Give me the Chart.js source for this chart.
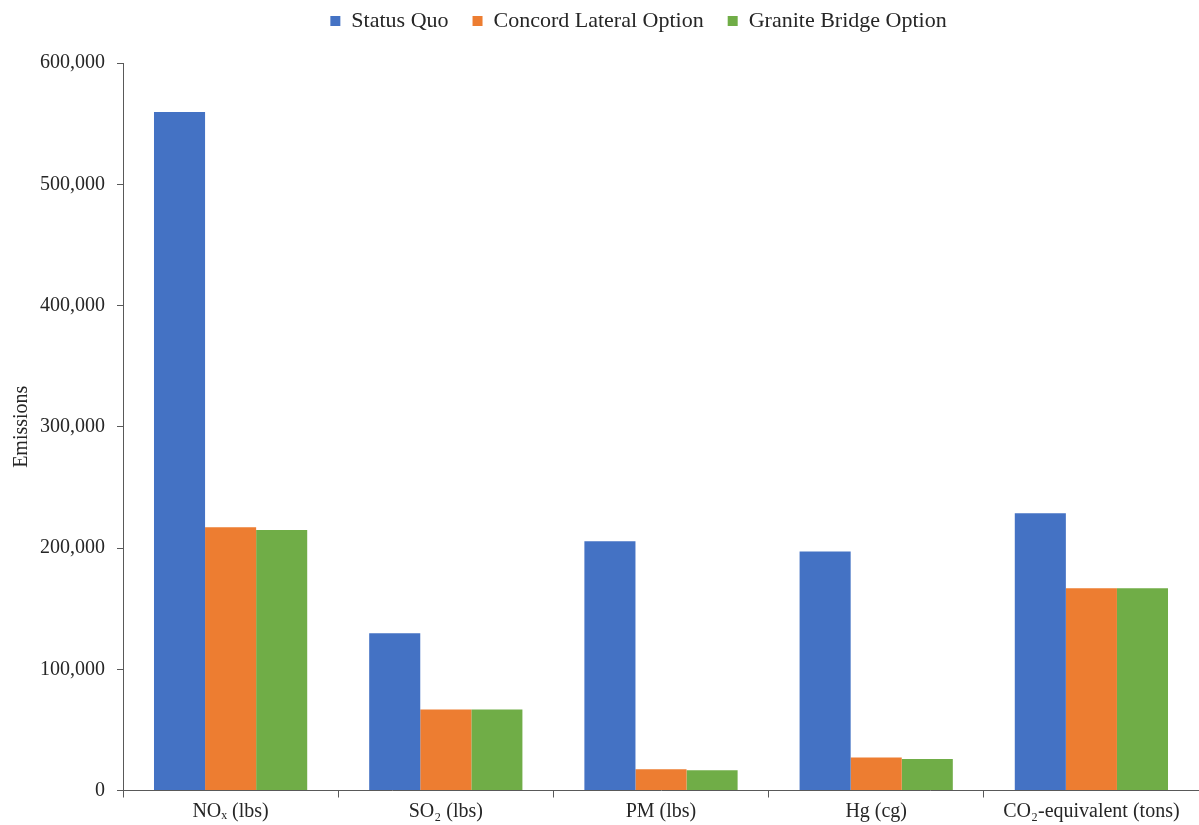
<!DOCTYPE html>
<html>
<head>
<meta charset="utf-8">
<script src="https://cdn.jsdelivr.net/npm/chart.js@4"></script>
<style>
html,body{margin:0;padding:0;background:#fff;}
#wrap{width:1199px;height:825px;}
</style>
</head>
<body>
<div id="wrap"><canvas id="emissionsChart"></canvas></div>
<script>
const categories = [
"NOₓ (lbs)",
"SO₂ (lbs)",
"PM (lbs)",
"Hg (cg)",
"CO₂-equivalent (tons)"
];

const statusQuo = [559500, 129700, 205500, 197200, 228700];
const concordLateral = [217100, 66800, 17600, 27300, 166900];
const graniteBridge = [214900, 66800, 16800, 25900, 166900];

const seriesNames = [
"Status Quo",
"Concord Lateral Option",
"Granite Bridge Option"
];

const yTicks = [0, 100000, 200000, 300000, 400000, 500000, 600000];

const textColor = "#262626";
const axisColor = "#595959";

Chart.defaults.font.family = "'Liberation Serif', 'Times New Roman', serif";
Chart.defaults.font.size = 20;
Chart.defaults.color = textColor;

// legend: a bit more room below it, and centred a little right of the canvas middle
const legendSpacer = {
id:"legendSpacer",
beforeInit(chart){
const origFit = chart.legend.fit;
chart.legend.fit = function(){
origFit.bind(chart.legend)();
this.height += 21;
};
},
afterLayout(chart){
chart.legend.left += 39;
chart.legend.right += 39;
}
};

new Chart(
document.getElementById("emissionsChart"),
{
type:"bar",
data:{
labels:categories,
datasets:[
{label:seriesNames[0], data:statusQuo, backgroundColor:"#4472C4"},
{label:seriesNames[1], data:concordLateral, backgroundColor:"#ED7D31"},
{label:seriesNames[2], data:graniteBridge, backgroundColor:"#70AD47"}
]
},
plugins:[legendSpacer],
options:{
responsive:true,
maintainAspectRatio:false,
animation:false,
layout:{padding:{top:-14, right:0, bottom:0, left:0}},
datasets:{
bar:{categoryPercentage:0.712, barPercentage:1.0}
},
plugins:{
tooltip:{enabled:false},
legend:{
position:"top",
labels:{
boxWidth:10,
boxHeight:10,
padding:24,
font:{size:22},
color:textColor
}
}
},
scales:{
x:{
offset:true,
grid:{
display:true,
offset:true,
drawOnChartArea:false,
drawTicks:true,
tickLength:7,
color:axisColor
},
border:{display:true, color:axisColor, width:1},
ticks:{color:textColor, padding:2, maxRotation:0, font:{size:20}},
afterFit:function(scale){ scale.height = 34.5; }
},
y:{
min:0,
max:600000,
afterBuildTicks:function(scale){
scale.ticks = yTicks.map(v=>({value:v}));
},
grid:{
display:true,
drawOnChartArea:false,
drawTicks:true,
tickLength:6,
color:axisColor
},
border:{display:true, color:axisColor, width:1},
ticks:{
color:textColor,
padding:12,
font:{size:20},
callback:function(v){ return v.toLocaleString("en-US"); }
},
title:{
display:true,
text:"Emissions",
color:textColor,
font:{size:20},
padding:{top:10, bottom:0}
},
afterFit:function(scale){ scale.width = 123; }
}
}
}
}
);
</script>
</body>
</html>
